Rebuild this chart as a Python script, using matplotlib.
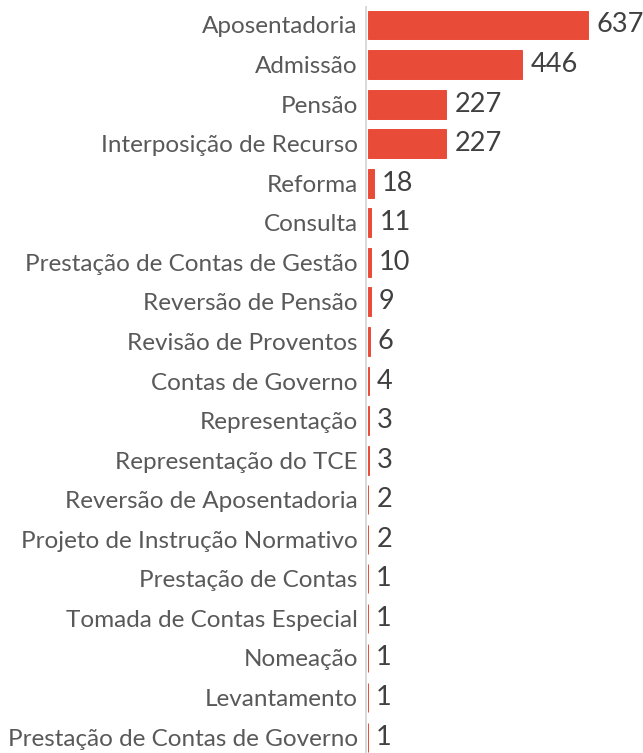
import matplotlib
matplotlib.use("Agg")
import matplotlib.pyplot as plt
from matplotlib.lines import Line2D

categories = ["Aposentadoria", "Admissão", "Pensão", "Interposição de Recurso", "Reforma",
              "Consulta", "Prestação de Contas de Gestão", "Reversão de Pensão",
              "Revisão de Proventos", "Contas de Governo", "Representação",
              "Representação do TCE", "Reversão de Aposentadoria",
              "Projeto de Instrução Normativo", "Prestação de Contas",
              "Tomada de Contas Especial", "Nomeação", "Levantamento",
              "Prestação de Contas de Governo"]
values = [637, 446, 227, 227, 18, 11, 10, 9, 6, 4, 3, 3, 2, 2, 1, 1, 1, 1, 1]

W, H = 643, 753
fig = plt.figure(figsize=(W / 100, H / 100), dpi=100)
x0, x1 = 367.5, 643
y_top, y_bot = 7, 753
ax = fig.add_axes([x0 / W, 1 - y_bot / H, (x1 - x0) / W, (y_bot - y_top) / H])

pos = list(range(len(categories)))
ax.barh(pos, values, height=0.73, color="#E84C38", edgecolor="#E84C38",
        linewidth=0.7, zorder=2)
spacing = 39.56
ax.set_ylim((y_bot - 25) / spacing, -(25 - y_top) / spacing)
ax.set_xlim(0, 795)

for s in ["top", "right", "bottom", "left"]:
    ax.spines[s].set_visible(False)
fig.add_artist(Line2D([365.5 / W, 365.5 / W], [0, 1 - 7 / H], color="#D9D9D9",
                      linewidth=1.4, transform=fig.transFigure, zorder=0))
ax.set_xticks([])
ax.set_yticks(pos)
ax.set_yticklabels(categories, fontsize=17.5, color="#595959", family="Lato")
ax.tick_params(axis="y", length=0, pad=7)

for p, v in zip(pos, values):
    ax.text(v + 24, p, str(v), va="center", ha="left", fontsize=19.5,
            color="#404040", family="Lato")

fig.savefig("out.png", dpi=100)
